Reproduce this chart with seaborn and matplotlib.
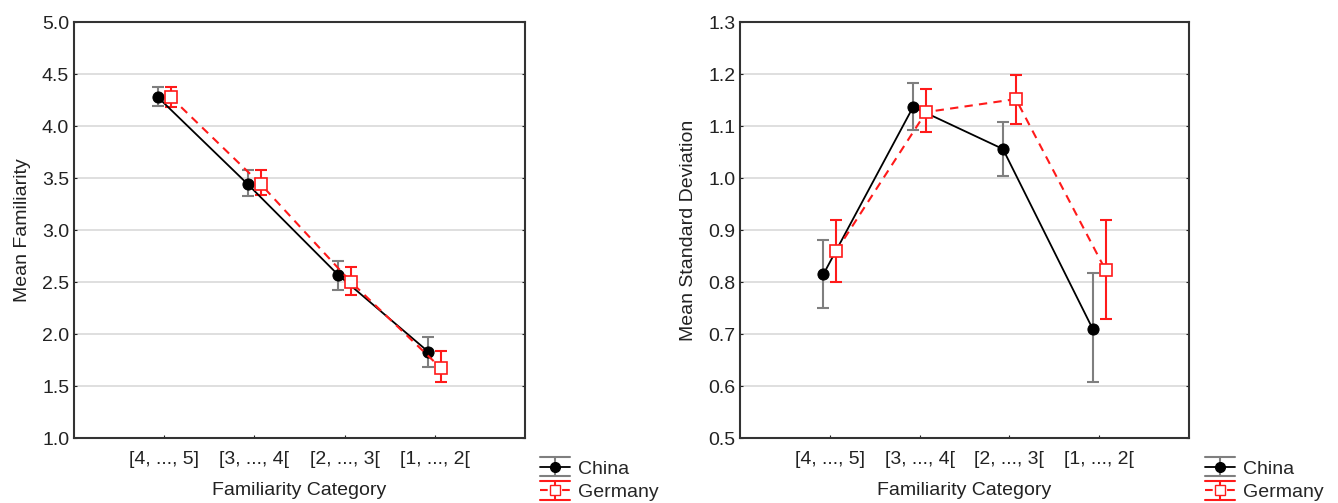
import numpy as np
import pandas as pd
import matplotlib
matplotlib.use("Agg")
import matplotlib.pyplot as plt
from matplotlib.lines import Line2D
from matplotlib.legend_handler import HandlerBase
import seaborn as sns

# categories on the x axis
categories = ["[4, ..., 5]", "[3, ..., 4[", "[2, ..., 3[", "[1, ..., 2["]

# left panel: mean familiarity
fam_china = [4.28, 3.44, 2.57, 1.83]
fam_china_lo = [4.19, 3.33, 2.42, 1.68]
fam_china_hi = [4.38, 3.58, 2.70, 1.97]
fam_germany = [4.28, 3.44, 2.50, 1.67]
fam_germany_lo = [4.18, 3.34, 2.38, 1.54]
fam_germany_hi = [4.38, 3.58, 2.65, 1.84]

# right panel: mean standard deviation
sd_china = [0.815, 1.137, 1.056, 0.710]
sd_china_lo = [0.750, 1.092, 1.004, 0.608]
sd_china_hi = [0.881, 1.183, 1.108, 0.817]
sd_germany = [0.860, 1.127, 1.152, 0.823]
sd_germany_lo = [0.800, 1.088, 1.104, 0.730]
sd_germany_hi = [0.920, 1.171, 1.198, 0.919]

sns.set_style("white")
plt.rcParams['font.family'] = ['Liberation Sans', 'DejaVu Sans']

FS = 14
GREY = '#7f7f7f'
RED = '#ff1a1a'

fig = plt.figure(figsize=(13.38, 5.03), dpi=100)
ax1 = fig.add_axes([0.0553, 0.129, 0.3371, 0.827])
ax2 = fig.add_axes([0.5531, 0.129, 0.3355, 0.827])

off = 0.072


class ErrHandle(HandlerBase):
    # legend key: cap line on top and bottom, data line with marker in between
    def create_artists(self, legend, orig, xd, yd, w, h, fontsize, trans):
        line, ecolor = orig
        arts = []
        for yy in (yd + h * 1.2, yd - h * 0.2):
            a = Line2D([xd, xd + w], [yy, yy], color=ecolor, lw=1.5)
            a.set_transform(trans)
            arts.append(a)
        mid = Line2D([xd, xd + w], [yd + h / 2, yd + h / 2], color=line.get_color(),
                     lw=line.get_linewidth(), linestyle=line.get_linestyle())
        mid.set_transform(trans)
        mk = Line2D([xd + w / 2], [yd + h / 2], marker=line.get_marker(), markersize=7,
                    markerfacecolor=line.get_markerfacecolor(),
                    markeredgecolor=line.get_markeredgecolor(), linestyle='none')
        mk.set_transform(trans)
        vb = Line2D([xd + w / 2, xd + w / 2], [yd - h * 0.2, yd + h * 1.2], color=ecolor, lw=1.5)
        vb.set_transform(trans)
        return arts + [mid, vb, mk]


def draw_panel(ax, china, c_lo, c_hi, germany, g_lo, g_hi, ylim, yticks, ylabel):
    xs = np.arange(len(categories))
    df = pd.DataFrame({
        "x": np.concatenate([xs - off, xs + off]),
        "y": china + germany,
        "country": ["China"] * 4 + ["Germany"] * 4,
    })
    ax.errorbar(xs - off, china,
                yerr=[np.array(china) - np.array(c_lo), np.array(c_hi) - np.array(china)],
                fmt='none', ecolor=GREY, elinewidth=1.5, capsize=4, capthick=1.5, zorder=2)
    ax.errorbar(xs + off, germany,
                yerr=[np.array(germany) - np.array(g_lo), np.array(g_hi) - np.array(germany)],
                fmt='none', ecolor=RED, elinewidth=1.5, capsize=4, capthick=1.5, zorder=2)
    sns.lineplot(data=df[df.country == "China"], x="x", y="y", ax=ax, color='black',
                 lw=1.3, marker='o', markersize=8, markeredgecolor='black', legend=False, zorder=3)
    sns.lineplot(data=df[df.country == "Germany"], x="x", y="y", ax=ax, color=RED,
                 lw=1.5, linestyle=(0, (4, 3)), marker='s', markersize=8,
                 markerfacecolor='white', markeredgecolor=RED, markeredgewidth=1.2,
                 legend=False, zorder=3)
    ax.set_xlim(-1, 4)
    ax.set_ylim(*ylim)
    ax.set_xticks(xs)
    ax.set_xticklabels(categories)
    ax.set_yticks(yticks)
    ax.set_yticklabels([f"{t:.1f}" for t in yticks])
    ax.yaxis.grid(True, color='#d9d9d9', lw=1.2)
    ax.set_axisbelow(True)
    for s in ax.spines.values():
        s.set_color('#333333')
        s.set_linewidth(1.5)
    ax.tick_params(axis='both', labelsize=FS, colors='#222222', direction='in', length=2,
                   right=True, bottom=True, left=True)
    ax.tick_params(axis='x', pad=9)
    ax.set_xlabel("Familiarity Category", fontsize=FS, color='#222222', labelpad=10)
    ax.set_ylabel(ylabel, fontsize=FS, color='#222222', labelpad=8)
    lines = ax.get_lines()
    return [(lines[-2], GREY), (lines[-1], RED)]


h1 = draw_panel(ax1, fam_china, fam_china_lo, fam_china_hi,
                fam_germany, fam_germany_lo, fam_germany_hi,
                (1.0, 5.0), np.arange(1.0, 5.01, 0.5), "Mean Familiarity")
h2 = draw_panel(ax2, sd_china, sd_china_lo, sd_china_hi,
                sd_germany, sd_germany_lo, sd_germany_hi,
                (0.5, 1.3), np.arange(0.5, 1.301, 0.1), "Mean Standard Deviation")

for hs, xa in [(h1, 0.4036), (h2, 0.9006)]:
    fig.legend(hs, ["China", "Germany"], loc='lower left', bbox_to_anchor=(xa, 0.004),
               frameon=False, fontsize=FS, handlelength=1.55, handletextpad=0.4,
               labelspacing=0.3, borderpad=0, borderaxespad=0,
               handler_map={tuple: ErrHandle()})

fig.savefig("out.png", dpi=100)
